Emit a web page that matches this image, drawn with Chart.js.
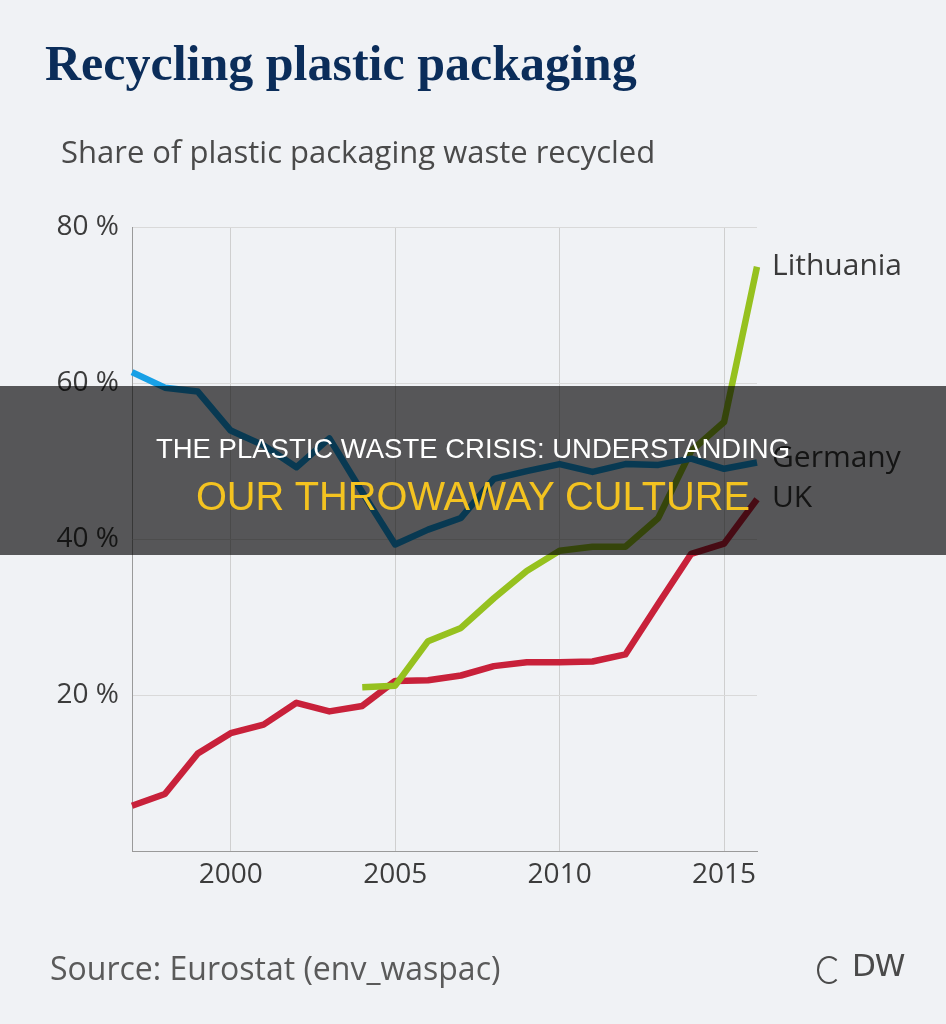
<!DOCTYPE html>
<html>
<head>
<meta charset="utf-8">
<script src="https://cdn.jsdelivr.net/npm/chart.js@4/dist/chart.umd.min.js"></script>
<style>
  html, body { margin:0; padding:0; background:#f0f2f5; }
  body { width:946px; height:1024px; position:relative; overflow:hidden; }
  #c { position:absolute; left:0; top:0; }
  .t { position:absolute; white-space:nowrap; line-height:1; }
  #title { left:45px; top:38px; font-family:"Liberation Serif", serif; font-weight:bold; font-size:50px; color:#0b2d5a; }
  #sub { left:61px; top:136px; font-family:"Open Sans", sans-serif; font-size:31px; color:#4a4a4a; }
  #src { left:50px; top:952px; font-family:"Open Sans", sans-serif; font-size:32px; color:#5a5a5a; }
  #band { position:absolute; left:0; top:386px; width:946px; height:169px; background:rgba(0,0,0,0.645); }
  #l1 { left:0; width:946px; text-align:center; top:435px; font-family:"Liberation Sans", Arial, sans-serif; font-size:27.5px; color:#ffffff; }
  #l2 { left:0; width:946px; text-align:center; top:477px; font-family:"Liberation Sans", Arial, sans-serif; font-size:39.8px; color:#f4c320; }
  #dw { left:852px; top:950px; font-family:"DejaVu Sans", sans-serif; font-size:31px; color:#4a4a4a; letter-spacing:-1px; }
  #ring { position:absolute; left:817px; top:956px; width:20px; height:24px; border:2px solid #4a4a4a; border-radius:50%; border-right-color:transparent; }
</style>
</head>
<body>
<canvas id="c" width="946" height="1024"></canvas>
<div class="t" id="title">Recycling plastic packaging</div>
<div class="t" id="sub">Share of plastic packaging waste recycled</div>
<div class="t" id="src">Source: Eurostat (env_waspac)</div>
<div id="ring"></div>
<div class="t" id="dw">DW</div>
<div id="band"></div>
<div class="t" id="l1">THE PLASTIC WASTE CRISIS: UNDERSTANDING</div>
<div class="t" id="l2">OUR THROWAWAY CULTURE</div>
<script>
const years = [1997,1998,1999,2000,2001,2002,2003,2004,2005,2006,2007,2008,2009,2010,2011,2012,2013,2014,2015,2016];
const germany = [61.4,59.4,58.9,53.9,52.0,49.2,52.9,46.0,39.3,41.2,42.7,47.7,48.7,49.6,48.6,49.6,49.5,50.3,49.0,49.8];
const lithuania = [null,null,null,null,null,null,null,21.0,21.2,26.9,28.6,32.4,35.9,38.5,39.0,39.0,42.7,51.3,55.0,74.9];
const uk = [5.8,7.3,12.5,15.1,16.2,19.0,17.9,18.6,21.8,21.9,22.5,23.7,24.2,24.2,24.3,25.2,31.7,38.1,39.4,45.1];
const seriesNames = ["Germany","Lithuania","UK"];
const yTicks = [0,20,40,60,80];
const xTickYears = [2000,2005,2010,2015];

const endLabels = {
  id:'endLabels',
  afterDatasetsDraw(chart){
    const ctx = chart.ctx;
    ctx.save();
    ctx.font = '30px "Open Sans"';
    ctx.fillStyle = '#3a3a3a';
    ctx.textBaseline = 'middle';
    ctx.textAlign = 'left';
    const dy = {Germany:-4, Lithuania:0, UK:-1};
    chart.data.datasets.forEach((ds,i)=>{
      const meta = chart.getDatasetMeta(i);
      const p = meta.data[meta.data.length-1];
      ctx.fillText(ds.label, p.x + 15, p.y + (dy[ds.label]||0));
    });
    ctx.restore();
  }
};

new Chart(document.getElementById('c'), {
  type:'line',
  data:{
    labels: years.map(String),
    datasets:[
      {label:seriesNames[0], data:germany, borderColor:'#18a0e6'},
      {label:seriesNames[1], data:lithuania, borderColor:'#96c11f'},
      {label:seriesNames[2], data:uk, borderColor:'#c8213a'}
    ].map(d=>Object.assign(d,{borderWidth:6.5, pointRadius:0, tension:0, borderJoinStyle:'round', borderCapStyle:'butt', fill:false}))
  },
  options:{
    responsive:false,
    animation:false,
    devicePixelRatio:1,
    layout:{padding:{left:0, right:189, top:227, bottom:113}},
    plugins:{legend:{display:false}, tooltip:{enabled:false}},
    scales:{
      x:{
        type:'category',
        offset:false,
        afterFit(s){ s.height = 60; },
        grid:{ drawTicks:false, lineWidth:1,
          color:(c)=> xTickYears.includes(years[c.index]) ? '#cfcfcf' : 'rgba(0,0,0,0)' },
        border:{display:true, color:'#9a9a9a', width:1},
        ticks:{ autoSkip:false, maxRotation:0, padding:7, color:'#3c3c3c',
          font:{family:'"Open Sans"', size:28},
          callback:(v,i)=> xTickYears.includes(years[i]) ? String(years[i]) : '' }
      },
      y:{
        min:0, max:80,
        afterFit(s){ s.width = 132; },
        afterBuildTicks(s){ s.ticks = yTicks.map(v=>({value:v})); },
        grid:{ drawTicks:false, lineWidth:1,
          color:(c)=> c.tick && c.tick.value === 0 ? 'rgba(0,0,0,0)' : '#d9d9d9' },
        border:{display:true, color:'#9a9a9a', width:1},
        ticks:{ padding:13, color:'#3c3c3c', font:{family:'"Open Sans"', size:28},
          callback:(v)=> v === 0 ? '' : v + ' %' }
      }
    }
  },
  plugins:[endLabels]
});
</script>
</body>
</html>
